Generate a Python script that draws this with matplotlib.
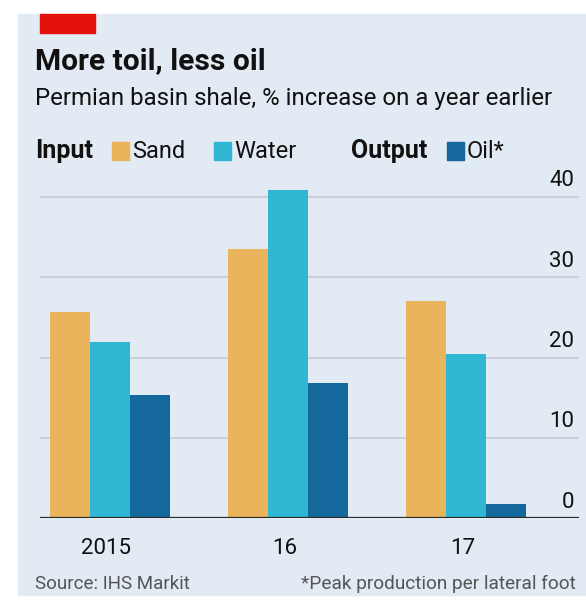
import numpy as np
import matplotlib.pyplot as plt
from matplotlib.patches import Rectangle

years = ["2015", "16", "17"]
sand = [25.7, 33.5, 27.1]
water = [22.0, 40.9, 20.5]
oil = [15.4, 16.8, 1.8]
yticks = [0, 10, 20, 30, 40]

SAND = "#e9b45c"
WATER = "#30b7d3"
OIL = "#14689c"
BG = "#e2eaf3"

W, H = 586, 601
plt.rcParams['font.family'] = ['Roboto', 'DejaVu Sans']
fig = plt.figure(figsize=(W / 100, H / 100), dpi=100)


def px(x, y):
    return x / W, 1 - y / H


# panel background and red tag
fig.patches.append(Rectangle(px(18, 595), (W - 18) / W, 581 / H,
                             transform=fig.transFigure, color=BG, zorder=-5))
fig.patches.append(Rectangle(px(40, 33), 55 / W, 19 / H,
                             transform=fig.transFigure, color="#e3120b", zorder=1))

fig.text(*px(35, 61), "More toil, less oil", fontsize=21.5, fontweight="bold",
         va="center", color="#111")
fig.text(*px(35, 98), "Permian basin shale, % increase on a year earlier",
         fontsize=17.3, va="center", color="#111")

# legend row
ly = 151
fig.text(*px(35, ly), "Input", fontsize=18, fontweight="bold", va="center", color="#111")
fig.text(*px(351, ly), "Output", fontsize=18, fontweight="bold", va="center", color="#111")
for x0, col, lab in [(112, SAND, "Sand"), (214, WATER, "Water"), (447, OIL, "Oil*")]:
    fig.patches.append(Rectangle(px(x0, ly + 9), 17 / W, 18 / H,
                                 transform=fig.transFigure, color=col))
    fig.text(*px(x0 + 20, ly), lab, fontsize=17, va="center", color="#111")

# chart area
top_val = 42.5
ppu = 8.03
ax = fig.add_axes([40 / W, 1 - 518.3 / H, (579 - 40) / W, top_val * ppu / H])
ax.set_facecolor("none")
x = np.arange(len(years))
bw = 0.225
ax.bar(x - bw, sand, bw, color=SAND, zorder=3)
ax.bar(x, water, bw, color=WATER, zorder=3)
ax.bar(x + bw, oil, bw, color=OIL, zorder=3)

ax.set_xlim(-0.393, 2.635)
ax.set_ylim(0, top_val)
for v in yticks[1:]:
    ax.axhline(v, color="#c6cfd8", lw=1.3, zorder=1)
ax.axhline(0, color="#2a2a2a", lw=1.6, zorder=4)
for v in yticks:
    ax.text(2.607, v + 0.7, str(v), ha="right", va="bottom", fontsize=16, color="#111")

ax.set_xticks(x - 0.02)
ax.set_xticklabels(years, fontsize=16, color="#111")
ax.tick_params(axis="x", length=0, pad=14)
ax.set_yticks([])
for s in ax.spines.values():
    s.set_visible(False)

fig.text(*px(35, 584), "Source: IHS Markit", fontsize=13.5, va="center", color="#555")
fig.text(*px(576, 584), "*Peak production per lateral foot", fontsize=13.7,
         va="center", ha="right", color="#555")

fig.savefig("out.png", dpi=100)
